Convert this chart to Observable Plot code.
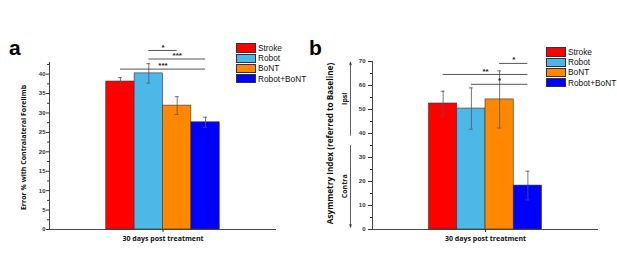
<!DOCTYPE html>
<html><head><meta charset="utf-8">
<script src="https://cdn.jsdelivr.net/npm/d3@7"></script>
<script src="https://cdn.jsdelivr.net/npm/@observablehq/plot@0.6"></script>
<style>
html,body{margin:0;padding:0;background:#fff;}
#wrap{position:relative;width:617px;height:273px;overflow:hidden;background:#fff;}
.pnl{position:absolute;top:0;}
.letter{position:absolute;font:bold 21px "Liberation Sans",Arial,sans-serif;color:#000;}
.legend{position:absolute;font:8.3px "Liberation Sans",Arial,sans-serif;color:#111;}
.legend .row{display:flex;align-items:center;height:10.2px;}
.legend .sw{width:18px;height:7.5px;border:0.6px solid #333;margin-right:2px;box-sizing:content-box;}
</style></head>
<body><div id="wrap"></div>
<script>
// ---- data ----
const groups = ["Stroke", "Robot", "BoNT", "Robot+BoNT"];
const colors = ["#ff0000", "#4db8e8", "#ff8800", "#0000ff"];
const xLabel = "30 days post treatment";

const meanA = [38.1, 40.2, 31.9, 27.6];
const errA = [1.0, 2.5, 2.3, 1.3];
const yTicksA = [0, 5, 10, 15, 20, 25, 30, 35, 40];
const yMinorA = [2.5, 7.5, 12.5, 17.5, 22.5, 27.5, 32.5, 37.5, 42.5];
const yLabelA = "Error % with Contralateral Forelimb";
const sigA = [
  {from: "Robot", to: "BoNT", level: 46.1, label: "*"},
  {from: "Robot", to: "Robot+BoNT", level: 43.9, label: "***"},
  {from: "Stroke", to: "Robot+BoNT", level: 41.3, label: "***"}
];

const meanB = [52.5, 50.4, 54.2, 18.3];
const errB = [5.1, 8.6, 11.9, 6.0];
const yTicksB = [0, 10, 20, 30, 40, 50, 60, 70];
const yMinorB = [5, 15, 25, 35, 45, 55, 65];
const yLabelB = "Asymmetry Index (referred to Baseline)";
const sigB = [
  {from: "BoNT", to: "Robot+BoNT", level: 69.2, label: "*"},
  {from: "Stroke", to: "Robot+BoNT", level: 64.6, label: "**"},
  {from: "Robot", to: "Robot+BoNT", level: 60.5, label: "*"}
];
const sideArrows = [
  {label: "Ipsi", from: 39.3, to: 69.7},
  {label: "Contra", from: 35, to: 1}
];

// ---- drawing ----
const xDomain = [-2, 6];
const idx = g => groups.indexOf(g);
const cen = g => idx(g) + 0.5;

function panel(o) {
  const rows = groups.map((g, i) => ({group: g, value: o.means[i], err: o.errs[i]}));
  const marks = [
    Plot.rectY(rows, {x1: d => idx(d.group), x2: d => idx(d.group) + 1, y: "value", fill: "group", stroke: "#333", strokeWidth: 0.6}),
    Plot.ruleX(rows, {x: d => cen(d.group), y1: d => d.value - d.err, y2: d => d.value + d.err, stroke: "#555", strokeWidth: 0.8}),
    Plot.ruleY(rows, {y: d => d.value + d.err, x1: d => cen(d.group) - 0.07, x2: d => cen(d.group) + 0.07, stroke: "#555", strokeWidth: 0.8}),
    Plot.ruleY(rows, {y: d => d.value - d.err, x1: d => cen(d.group) - 0.07, x2: d => cen(d.group) + 0.07, stroke: "#555", strokeWidth: 0.8}),
    Plot.ruleY(o.sig, {y: "level", x1: d => cen(d.from), x2: d => cen(d.to), stroke: "#444", strokeWidth: 0.9}),
    Plot.text(o.sig, {y: "level", x: d => (cen(d.from) + cen(d.to)) / 2, text: "label", dy: -3.5, fontSize: 8, fontWeight: "bold", fill: "#222"}),
    Plot.ruleX([xDomain[0]], {stroke: "#333", strokeWidth: 0.9}),
    Plot.ruleY([0], {stroke: "#333", strokeWidth: 0.9}),
    Plot.axisY({ticks: o.yTicks, tickSize: o.tickSize, tickPadding: o.tickPadding, fontSize: 6, fontWeight: "bold", fill: "#333", stroke: "#333", label: null}),
    Plot.axisY({ticks: o.yMinor, tickSize: 2, tickFormat: () => "", stroke: "#333", label: null}),
    Plot.axisX({ticks: [(xDomain[0] + xDomain[1]) / 2], tickSize: 3, tickFormat: () => "", stroke: "#333", label: null}),
    Plot.text([xLabel], {frameAnchor: "bottom", dy: 11, fontSize: 7, fontWeight: "bold", fontFamily: "Open Sans", fill: "#111"}),
    Plot.text([o.yLabel], {frameAnchor: "left", textAnchor: "middle", dx: o.ylabelDx, dy: o.ylabelDy, rotate: -90, fontSize: o.ylabelSize, fontWeight: "bold", fontFamily: "Open Sans", fill: "#111"})
  ];
  if (o.arrows) {
    marks.push(Plot.arrow(o.arrows, {x1: xDomain[0], x2: xDomain[0], y1: "from", y2: "to", dx: -22, stroke: "#333", strokeWidth: 0.8, headLength: 5, headAngle: 35}));
    marks.push(Plot.text(o.arrows, {x: xDomain[0], y: d => (d.from + d.to) / 2, text: "label", rotate: -90, dx: -28, fontSize: 7, fontWeight: "bold", fontFamily: "Open Sans", fill: "#222"}));
  }
  return Plot.plot({
    width: o.width, height: 273,
    marginLeft: o.ml, marginRight: o.mr, marginTop: o.mt, marginBottom: 44,
    x: {type: "linear", domain: xDomain},
    y: {domain: o.yDomain},
    color: {domain: groups, range: colors},
    style: {fontFamily: "'Liberation Sans', Arial, sans-serif", background: "transparent", overflow: "visible"},
    marks
  });
}

const wrap = document.getElementById("wrap");
const a = panel({means: meanA, errs: errA, yDomain: [0, 43], yTicks: yTicksA, yMinor: yMinorA, yLabel: yLabelA, sig: sigA,
  width: 308, ml: 49, mr: 32, mt: 62, tickSize: 3, tickPadding: 1, ylabelDx: -26, ylabelDy: 1.5, ylabelSize: 7});
a.classList.add("pnl"); a.style.left = "0px";
const b = panel({means: meanB, errs: errB, yDomain: [0, 70], yTicks: yTicksB, yMinor: yMinorB, yLabel: yLabelB, sig: sigB,
  width: 309, ml: 64, mr: 19, mt: 61, tickSize: 4, tickPadding: 3, ylabelDx: -42, ylabelDy: -2, ylabelSize: 8.2, arrows: sideArrows});
b.classList.add("pnl"); b.style.left = "308px";
wrap.appendChild(a); wrap.appendChild(b);

function addLetter(t, x, y) {
  const d = document.createElement("div"); d.className = "letter"; d.textContent = t;
  d.style.left = x + "px"; d.style.top = y + "px"; wrap.appendChild(d);
}
addLetter("a", 9, 36);
addLetter("b", 309, 36);

function addLegend(x, y) {
  const lg = document.createElement("div"); lg.className = "legend";
  lg.style.left = x + "px"; lg.style.top = y + "px";
  groups.forEach((g, i) => {
    const r = document.createElement("div"); r.className = "row";
    const sw = document.createElement("span"); sw.className = "sw"; sw.style.background = colors[i];
    const tx = document.createElement("span"); tx.textContent = g;
    r.appendChild(sw); r.appendChild(tx); lg.appendChild(r);
  });
  wrap.appendChild(lg);
}
addLegend(236, 43);
addLegend(546, 47);
</script></body></html>
